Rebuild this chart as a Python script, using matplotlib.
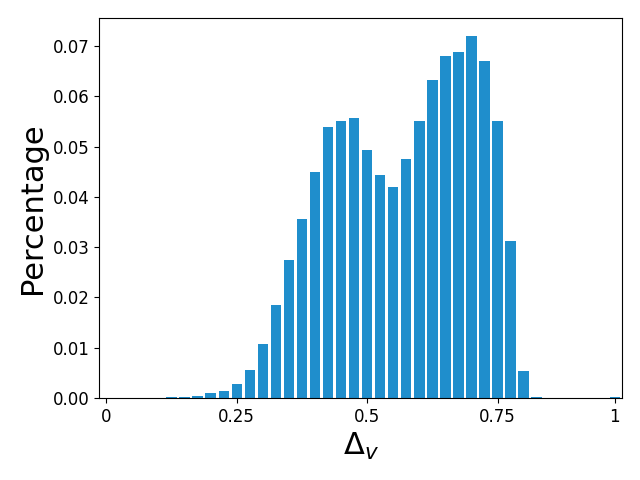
import matplotlib
matplotlib.use("Agg")
import matplotlib.pyplot as plt
import numpy as np

# histogram bin values (40 bins over [0, 1])
values = [0.0, 0.0, 0.0, 0.0, 0.0,
          0.0002, 0.0002, 0.0004, 0.0010, 0.0014,
          0.0028, 0.0056, 0.0107, 0.0185, 0.0274,
          0.0356, 0.0449, 0.0539, 0.0551, 0.0557,
          0.0493, 0.0443, 0.0419, 0.0475, 0.0551,
          0.0632, 0.0680, 0.0688, 0.0720, 0.0670,
          0.0551, 0.0312, 0.0054, 0.0002, 0.0,
          0.0, 0.0, 0.0, 0.0, 0.0002]
tick_positions = [0, 10, 20, 30, 39]
tick_labels = ["0", "0.25", "0.5", "0.75", "1"]

fig = plt.figure(figsize=(6.4, 4.8), dpi=100)
ax = fig.add_subplot(111)
ax.bar(np.arange(len(values)), values, width=0.8, color="#1f8ecc")
ax.set_xticks(tick_positions)
ax.set_xticklabels(tick_labels)
ax.set_xlim(-0.55, 39.55)
ax.tick_params(labelsize=12)
ax.set_xlabel(r"$\Delta_v$", fontsize=22)
ax.set_ylabel("Percentage", fontsize=22)
fig.subplots_adjust(left=0.155, right=0.972, top=0.9625, bottom=0.171)
fig.savefig("out.png", dpi=100)
